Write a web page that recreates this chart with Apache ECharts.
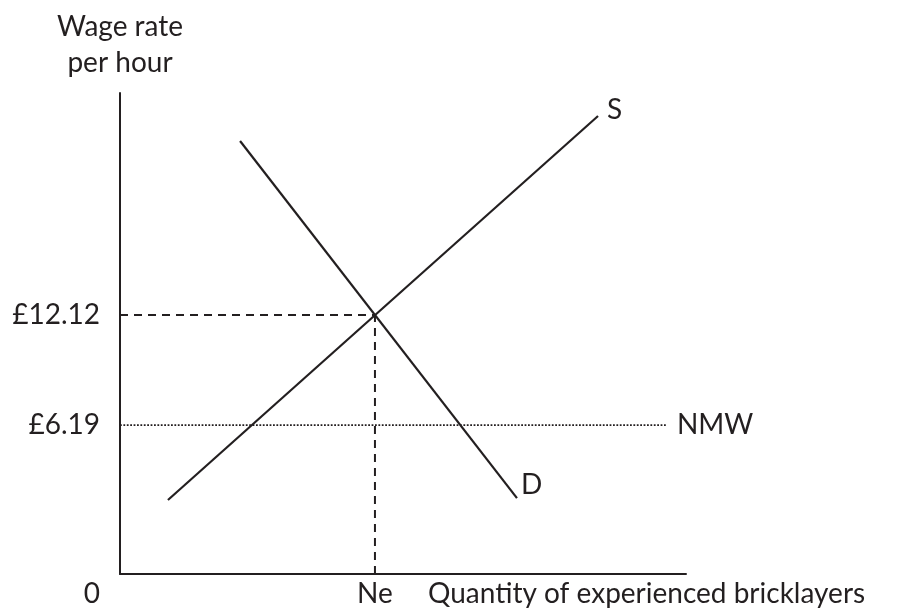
<!DOCTYPE html>
<html><head><meta charset="utf-8">
<script src="https://cdn.jsdelivr.net/npm/echarts@6/dist/echarts.min.js"></script>
<style>html,body{margin:0;padding:0;background:#fff}#c{width:902px;height:612px}</style>
</head><body><div id="c"></div>
<script>
// ---- data ----
const supplyQ = [18.8, 187.5];
const supplyW = [2.15, 22.85];
const demandQ = [47.1, 155.7];
const demandW = [21.5, 2.25];
const equilibriumQ = 100;
const equilibriumW = 12.12;
const minimumWage = 6.19;
const nmwEndQ = 214.5;
const wageTickValues = [12.12, 6.19];
const wageTickLabels = ['£12.12', '£6.19'];
const qTickValues = [100];
const qTickLabels = ['Ne'];
const xAxisTitle = 'Quantity of experienced bricklayers';
const yAxisTitle = 'Wage rate\nper hour';
const originLabel = '0';
const seriesNames = ['S', 'D', 'NMW'];
const xRange = [0, 222];
const yRange = [-1.84, 24.09];

// ---- style ----
const INK = '#231f20';
const FONT = 'Lato';
const FS = 28;

const zip = (a, b) => a.map((v, i) => [v, b[i]]);

const chart = echarts.init(document.getElementById('c'), null, {renderer: 'canvas'});
const option = {
  animation: false,
  backgroundColor: '#fff',
  grid: {left: 120, top: 93, right: 216, bottom: 38, containLabel: false},
  xAxis: {
    type: 'value', min: xRange[0], max: xRange[1],
    axisLine: {show: true, onZero: false, lineStyle: {color: INK, width: 2}},
    axisTick: {show: false}, splitLine: {show: false},
    axisLabel: {
      show: true, customValues: qTickValues, margin: 6,
      formatter: v => qTickLabels[qTickValues.indexOf(v)] || '',
      color: INK, fontFamily: FONT, fontSize: FS
    }
  },
  yAxis: {
    type: 'value', min: yRange[0], max: yRange[1],
    name: yAxisTitle, nameLocation: 'end', nameGap: 12,
    nameTextStyle: {color: INK, fontFamily: FONT, fontSize: FS, lineHeight: 36, align: 'center'},
    axisLine: {show: true, onZero: false, lineStyle: {color: INK, width: 2}},
    axisTick: {show: false}, splitLine: {show: false},
    axisLabel: {
      show: true, customValues: wageTickValues, margin: 20,
      formatter: v => wageTickLabels[wageTickValues.indexOf(v)] || '',
      color: INK, fontFamily: FONT, fontSize: FS
    }
  },
  series: [
    {
      name: seriesNames[0], type: 'line', data: zip(supplyQ, supplyW),
      symbol: 'none', silent: true, clip: false,
      lineStyle: {color: INK, width: 2.2},
      endLabel: {show: true, formatter: seriesNames[0], distance: 9, offset: [0, -6],
        color: INK, fontFamily: FONT, fontSize: FS}
    },
    {
      name: seriesNames[1], type: 'line', data: zip(demandQ, demandW),
      symbol: 'none', silent: true, clip: false,
      lineStyle: {color: INK, width: 2.2},
      endLabel: {show: true, formatter: seriesNames[1], distance: 4, offset: [0, -13],
        color: INK, fontFamily: FONT, fontSize: FS}
    },
    {
      name: seriesNames[2], type: 'line', data: [[xRange[0], minimumWage], [nmwEndQ, minimumWage]],
      symbol: 'none', silent: true, clip: false,
      lineStyle: {color: INK, width: 1.8, type: [1.8, 1.6]},
      endLabel: {show: true, formatter: seriesNames[2], distance: 10,
        color: INK, fontFamily: FONT, fontSize: FS}
    },
    {
      name: 'eqWage', type: 'line', data: [[xRange[0], equilibriumW], [equilibriumQ, equilibriumW]],
      symbol: 'none', silent: true, clip: false,
      lineStyle: {color: INK, width: 2, type: [8, 6]}
    },
    {
      name: 'eqQty', type: 'line', data: [[equilibriumQ, yRange[0]], [equilibriumQ, equilibriumW]],
      symbol: 'none', silent: true, clip: false,
      lineStyle: {color: INK, width: 2, type: [8, 6]}
    }
  ]
};
chart.setOption(option);

const origin = chart.convertToPixel({gridIndex: 0}, [xRange[0], yRange[0]]);
chart.setOption({
  graphic: [
    {type: 'text', x: origin[0] - 20, y: origin[1] + 20,
     style: {text: originLabel, align: 'right', verticalAlign: 'middle', fill: INK, font: FS + 'px ' + FONT}},
    {type: 'text', x: 428, y: origin[1] + 20,
     style: {text: xAxisTitle, align: 'left', verticalAlign: 'middle', fill: INK, font: FS + 'px ' + FONT}}
  ]
});
</script>
</body></html>
